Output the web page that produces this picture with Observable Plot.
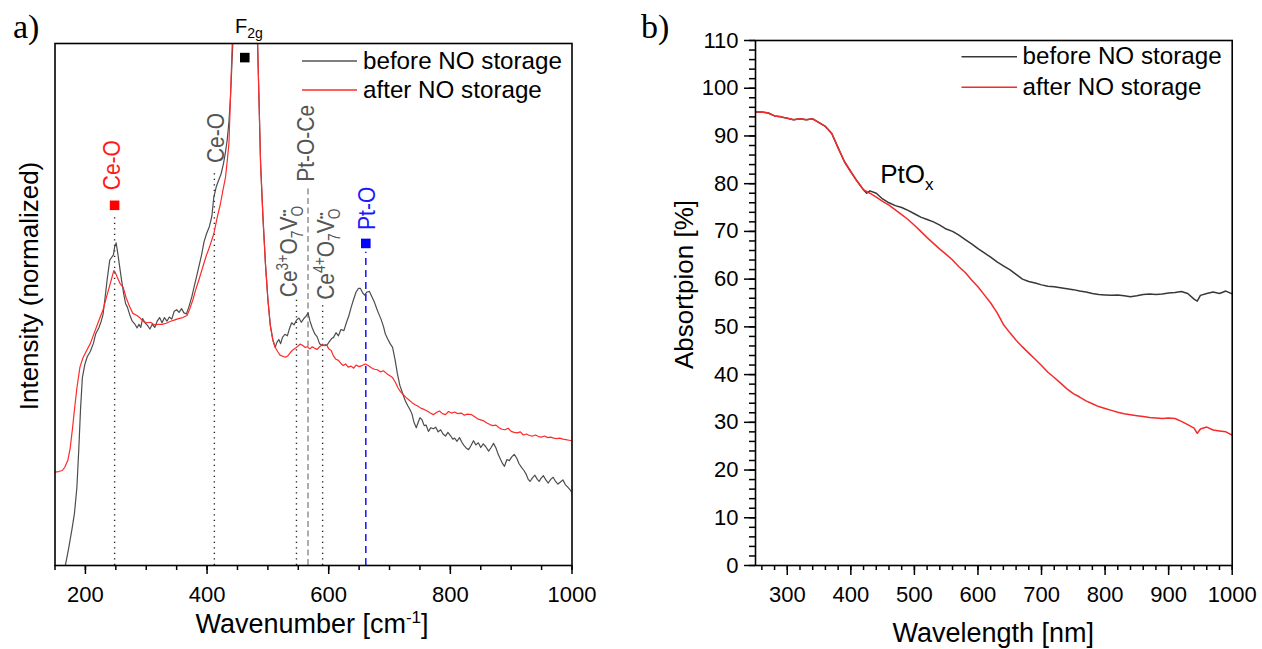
<!DOCTYPE html>
<html><head><meta charset="utf-8">
<script src="https://cdn.jsdelivr.net/npm/d3@7"></script>
<script src="https://cdn.jsdelivr.net/npm/@observablehq/plot@0.6"></script>
<style>
html,body{margin:0;padding:0;background:#fff;}
#fig{position:relative;width:1262px;height:649px;overflow:hidden;background:#fff;}
#fig > svg{position:absolute;top:0;}
</style></head><body><div id="fig"></div>
<script>
// ---------------- Panel a: Raman spectra (wavenumber cm-1, normalized intensity) ----------------
const ramanBefore = [
 [167,0],[172,3],[178,7],[182,10],[186,15],[189,22],[192,30],[195,36],[199,38.5],[203,40],[208,41],[213,42.5],[217,44.4],[222,45.5],[226,46.8],[229,48.1],[232,51],[236,55],[240,58.5],[243,59],[246,59.5],[248,61],[250.5,61.8],[253,60],[256,57.5],[259,55],[263,52],[266,50.2],[269,49.5],[273,48],[277,46.8],[281,46.3],[285,45.5],[288,46.2],[291,45.6],[294,47.3],[298,46.5],[302,46],[306,45.3],[310,46.2],[314,45.6],[318,46.8],[322,47.5],[326,46.5],[330,47.5],[334,46.8],[338,47.6],[342,47.2],[346,48.7],[350,49],[354,48.5],[358,49.2],[362,48.4],[366,48.2],[370,49.5],[375,51.5],[379,53.5],[383,55.5],[387,57.5],[391,59.5],[395,62],[399,63.5],[404,65],[408,67],[411,70.5],[415,72.5],[419,73.8],[423,75],[427,77],[430,79],[433,81.4],[436,85],[438.5,89.7],[440.5,95],[442.5,100.5],[450,125],[462,140],[474,125],[483,100.5],[488,77],[492,66.5],[496,57.8],[500,51],[504,46],[508,43.3],[512,41.8],
 [515,42.8],[518,43.3],[521,42.5],[524,43.7],[528,44.3],[532,44],[535,45.2],[539,46.5],[543,46.1],[547,47],[551,47.4],[555,46.6],[559,47.3],[563,47.8],[566,48.4],[569,46.9],[573,45.5],[577,44.4],[581,43.8],[585,42.5],[590,42.1],[594,42.3],[597,42.2],[601,42.9],[605,43.5],[608,43.7],[612,44.6],[616,44],[620,45.2],[625,45],[629,46.5],[633,47.8],[637,49.5],[641,51],[645,52.4],[649,53.1],[652,53.1],[656,52.2],[659,51.8],[663,52.4],[667,52.5],[671,51.5],[675,50.5],[679,49.2],[682,48.3],[686,47.2],[690,45.8],[693,44.4],[697,43.4],[701,42.5],[705,41.8],[709,39.5],[713,36.7],[717,34.5],[722,32.8],[726,31.5],[730,30.6],[734,29.8],[737,29],[740,27.5],[744,26.4],[747,27.4],[750,28.3],[753,28],[757,26.8],[760,26.9],[764,25.7],[768,26.4],[772,26.2],[776,26.5],[780,25.6],[784,26],[788,25.2],[792,24.8],[796,25.5],[800,24.9],[804,24.2],[807,24.4],[811,23.8],[815,24.5],[819,23.6],[823,22.9],[827,22.4],[830,22.2],[834,23],[838,23.9],[842,23.1],[846,23.5],[850,22.6],[854,23.3],[858,22.8],[863,21.9],[867,22.6],[871,23.4],[875,22.5],[879,21.2],[883,20.2],[886,19.5],[889,19],[893,20.3],[897,20.1],[901,20.8],[905,21.3],[909,20.6],[913,19.5],[917,18.8],[921,18.2],[925,17.4],[928,16.5],[931,16.1],[935,16.8],[939,17.3],[943,16.5],[946,16.1],[949,16.7],[953,17.2],[957,16.4],[961,15.8],[965,16.5],[969,16.9],[973,16.1],[977,15.6],[981,16],[985,16.4],[989,15.5],[993,15],[997,14.5],[1000,13.9]
];
const ramanAfter = [
 [150,17.9],[156,18],[162,18.2],[166,18.8],[171,20.1],[175,22.5],[179,26.5],[182.4,30.3],[186,34],[191,38],[196,39.8],[202,41.2],[208,42.5],[215,44.7],[222,46.9],[229,49],[236,52],[242,54.5],[246.7,56.5],[249,56.2],[252,55.3],[257,54],[262,53.3],[267,51.3],[273,49.5],[278,48.3],[284.6,47.9],[290,47.4],[296,46.7],[302,46.5],[307,46.6],[313,46.1],[320,46.2],[326,46.2],[333,46.4],[340,46.8],[346,47],[353,47.3],[360,47.5],[367,47.9],[372,49.3],[377,51],[381,52.7],[386,54.5],[392,56.8],[398,59.1],[404,61],[411,63.5],[416,66.3],[422,69.3],[426,71.8],[430.4,74.4],[433,77.3],[436,80.9],[438.5,89.7],[440,95],[441.5,100.5],[450,125],[462,140],[474,125],[483,100.5],[488,77],[492,66.5],[496,57.8],[500,51],[504,46],[508,43.3],[512,41.8],
 [516,41],[520,40.3],[524,40.1],[529,39.9],[533,40.2],[537,40.8],[541,41.3],[545,41.6],[549,42],[553,42.4],[557,42.2],[561,41.8],[565,41.9],[569,41.5],[573,41.9],[577,41.6],[581,41.4],[585,41.9],[589,42.3],[593,42.1],[597,42.2],[600,41.5],[604,41.2],[608,40.1],[612,39.5],[616,39.3],[620,38.7],[624,38.3],[628,38.6],[632,38],[637,38.2],[641,37.8],[645,38.4],[650,38.1],[655,38.3],[660,38.6],[665,38.3],[670,37.9],[675,37.6],[680,37.5],[685,37.1],[690,37.3],[695,36.8],[700,36.4],[705,36],[710,35],[714,34],[718,33.3],[722,32.8],[727,32.2],[732,31.7],[737,31.2],[742,30.8],[747,30.5],[752,30.1],[757,29.9],[762,29.6],[767,29.2],[772,28.9],[777,29.3],[782,29.6],[787,29.1],[792,28.9],[797,29.5],[802,29.2],[807,29.4],[812,29.1],[818,29.2],[823,28.8],[828,29],[835,28.9],[840,28.5],[845,28.1],[850,27.9],[855,27.7],[860,27.3],[865,27],[870,26.8],[875,26.9],[880,26.4],[885,26.1],[890,26],[895,26.3],[900,25.7],[905,25.5],[910,25.4],[915,25.6],[920,25],[925,25.2],[930,24.9],[935,24.8],[940,25],[945,24.7],[950,24.6],[955,24.8],[960,24.5],[965,24.6],[970,24.4],[975,24.3],[980,24.4],[985,24.2],[990,24.1],[995,24.0],[1000,23.9]
];
// reference lines (cm-1) and where they stop (intensity units)
const dottedPeaks = [248, 412, 547, 590];
const dottedTops  = [67.4, 75.7, 50.8, 49.8];
const dashedGrayPeaks = [566];
const dashedGrayTops  = [72.8];
const dashedBluePeaks = [661];
const dashedBlueTops  = [60.0];
// square markers
const markerPeaks  = [248, 462, 661];
const markerLevels = [69.0, 97.3, 61.7];
const markerColors = ["#ff0000", "#000000", "#0000ff"];
// series names
const seriesNames = ["before NO storage", "after NO storage"];
const ramanTicksMajor = [200, 400, 600, 800, 1000];

// ---------------- Panel b: UV-vis absorption (wavelength nm, %) ----------------
const uvBefore = [
 [250,95.0],[260,95.0],[270,94.8],[280,94.2],[290,94.0],[300,93.7],[310,93.4],[320,93.6],[330,93.4],[340,93.6],[350,92.8],[360,92.0],[370,90.5],[380,87.5],[390,84.6],[400,82.5],[410,80.5],[420,78.7],[425,78.0],[430,78.5],[440,78.0],[450,76.8],[460,76.0],[470,75.4],[480,75.0],[490,74.4],[500,73.7],[510,73.0],[520,72.5],[530,72.0],[540,71.3],[550,70.5],[560,70.0],[570,69.2],[580,68.3],[590,67.4],[600,66.4],[610,65.5],[620,64.6],[630,63.6],[640,62.8],[650,62.0],[660,61.0],[670,60.0],[680,59.5],[690,59.2],[700,58.8],[710,58.5],[720,58.4],[730,58.2],[740,58.0],[750,57.8],[760,57.5],[770,57.3],[780,57.0],[790,56.8],[800,56.7],[810,56.6],[820,56.7],[830,56.5],[840,56.3],[850,56.5],[860,56.8],[870,56.9],[880,56.8],[890,56.9],[900,57.1],[910,57.2],[920,57.4],[930,57.0],[940,55.8],[945,55.4],[950,56.6],[960,57.0],[970,57.3],[980,57.0],[990,57.5],[1000,56.9]
];
const uvAfter = [
 [250,95.0],[260,95.0],[270,94.8],[280,94.2],[290,94.0],[300,93.7],[310,93.4],[320,93.6],[330,93.4],[340,93.6],[350,92.8],[360,92.0],[370,90.5],[380,87.5],[390,84.6],[400,82.5],[410,80.5],[420,78.7],[430,78.0],[440,77.2],[450,76.3],[460,75.5],[470,74.5],[480,73.5],[490,72.5],[500,71.3],[510,70.0],[520,68.7],[530,67.5],[540,66.3],[550,65.2],[560,64.0],[570,62.6],[580,61.4],[590,59.8],[600,58.4],[610,56.7],[620,55.0],[630,53.0],[640,50.5],[650,48.8],[660,47.2],[670,45.8],[680,44.5],[690,43.2],[700,41.9],[710,40.5],[720,39.4],[730,38.2],[740,37.0],[750,36.0],[760,35.3],[770,34.5],[780,33.9],[790,33.3],[800,32.9],[810,32.5],[820,32.1],[830,31.8],[840,31.6],[850,31.4],[860,31.2],[870,31.0],[880,30.9],[890,30.8],[900,30.9],[910,30.8],[920,30.2],[930,29.5],[940,28.8],[945,27.7],[950,28.6],[960,29.0],[970,28.4],[980,28.2],[990,28.0],[1000,27.3]
];
const uvTicksMajor = [300, 400, 500, 600, 700, 800, 900, 1000];
const uvYTicks = [0,10,20,30,40,50,60,70,80,90,100,110];

// ---------------- rendering ----------------
const FONT = "'Liberation Sans', Arial, Helvetica, sans-serif";
const SERIF = "'Liberation Serif', 'Times New Roman', serif";
const fig = document.getElementById("fig");
const toRules = (xs, tops) => xs.map((x, i) => ({x, top: tops[i]}));
const markers = markerPeaks.map((x, i) => ({x, y: markerLevels[i], c: markerColors[i]}));
const intFmt = d => String(d);

const plotA = Plot.plot({
  width: 631, height: 649,
  marginLeft: 54.5, marginRight: 59.5, marginTop: 43, marginBottom: 84,
  style: {fontFamily: FONT, fontSize: "22px", color: "#000", background: "transparent", overflow: "visible"},
  x: {domain: [150, 1000]},
  y: {domain: [0, 100], axis: null},
  color: {type: "identity"},
  marks: [
    Plot.ruleX(toRules(dottedPeaks, dottedTops), {x: "x", y1: 0, y2: "top", stroke: "#222", strokeWidth: 1.4, strokeDasharray: "1.3,4.2"}),
    Plot.ruleX(toRules(dashedGrayPeaks, dashedGrayTops), {x: "x", y1: 0, y2: "top", stroke: "#8a8a8a", strokeWidth: 1.4, strokeDasharray: "6,3.5"}),
    Plot.ruleX(toRules(dashedBluePeaks, dashedBlueTops), {x: "x", y1: 0, y2: "top", stroke: "#2020ff", strokeWidth: 1.6, strokeDasharray: "7,5"}),
    Plot.line(ramanBefore, {x: d => d[0], y: d => d[1], stroke: "#4d4d4d", strokeWidth: 1.2, clip: true}),
    Plot.line(ramanAfter, {x: d => d[0], y: d => d[1], stroke: "#ff2a2a", strokeWidth: 1.2, clip: true}),
    Plot.dot(markers, {x: "x", y: "y", fill: "c", symbol: "square", r: 5.4, stroke: null}),
    Plot.axisX({ticks: d3.range(150, 1001, 50), tickSize: 5, tickFormat: () => "", label: null, strokeWidth: 1.5}),
    Plot.axisX({ticks: ramanTicksMajor, tickSize: 9, tickPadding: 11.5, tickFormat: intFmt, label: null, strokeWidth: 1.5, fill: "#000"}),
    Plot.frame({stroke: "#000", strokeWidth: 1.6})
  ]
});
plotA.style.left = "0px";
fig.appendChild(plotA);

const plotB = Plot.plot({
  width: 631, height: 649,
  marginLeft: 124, marginRight: 30.3, marginTop: 40, marginBottom: 84,
  style: {fontFamily: FONT, fontSize: "22px", color: "#000", background: "transparent", overflow: "visible"},
  x: {domain: [250, 1000]},
  y: {domain: [0, 110]},
  marks: [
    Plot.line(uvBefore, {x: d => d[0], y: d => d[1], stroke: "#383838", strokeWidth: 1.5}),
    Plot.line(uvAfter, {x: d => d[0], y: d => d[1], stroke: "#f52a2a", strokeWidth: 1.5}),
    Plot.axisY({ticks: d3.range(0, 111, 2), tickSize: 6, tickFormat: () => "", label: null, strokeWidth: 1.5}),
    Plot.axisY({ticks: uvYTicks, tickSize: 11, tickPadding: 6, tickFormat: intFmt, label: null, strokeWidth: 1.5, fill: "#000"}),
    Plot.axisX({ticks: d3.range(260, 1001, 20), tickSize: 5, tickFormat: () => "", label: null, strokeWidth: 1.5}),
    Plot.axisX({ticks: uvTicksMajor, tickSize: 10, tickPadding: 10.5, tickFormat: intFmt, label: null, strokeWidth: 1.5, fill: "#000"}),
    Plot.frame({stroke: "#000", strokeWidth: 1.6})
  ]
});
plotB.style.left = "631px";
fig.appendChild(plotB);

// --------- text helpers (real SVG text) ---------
// rotated labels: x is the centre of the cap band; stretch widens glyphs like the reference
function richText(svg, x, y, parts, opts) {
  const size = opts.size, st = opts.stretch || 1;
  const tx = opts.rotate ? x + 0.358 * size * st : x;
  const t = svg.append("text")
    .attr("transform", `translate(${tx},${y})` + (opts.rotate ? ` rotate(-90) scale(1,${st})` : ""))
    .attr("font-family", opts.family || FONT)
    .attr("font-size", size)
    .attr("fill", opts.color || "#000")
    .attr("text-anchor", opts.anchor || "start");
  let cur = 0, prev = null;
  for (const p of parts) {
    const target = p.sup ? -size * 0.38 : p.sub ? size * 0.25 : 0;
    const s = t.append("tspan").text(p.t)
      .attr("font-size", p.sup || p.sub ? (p.size || size * 0.66) : size);
    if (target - cur !== 0) s.attr("dy", target - cur);
    if (p.back && prev) s.attr("dx", -prev.node().getComputedTextLength());
    cur = target; prev = s;
  }
  return t;
}
function plainText(svg, x, y, str, size, opts = {}) {
  return svg.append("text")
    .attr("transform", `translate(${x},${y})` + (opts.rotate ? " rotate(-90)" : ""))
    .attr("text-anchor", opts.anchor || "start")
    .attr("font-family", opts.family || FONT).attr("font-size", size).attr("fill", "#000").text(str);
}

// Panel a annotations
const svgA = d3.select(plotA), xA = plotA.scale("x"), yA = plotA.scale("y");
const annoWn   = [242.9, 413.9, 561.9, 534.0, 594.8, 662.2];
const annoLev  = [71.8, 77.0, 73.4, 51.3, 50.8, 64.2];
const annoCol  = ["#ff1a1a", "#555555", "#555555", "#555555", "#555555", "#1a1aff"];
const annoParts = [
  [{t: "Ce-O"}],
  [{t: "Ce-O"}],
  [{t: "Pt-O-Ce"}],
  [{t: "Ce"}, {t: "3+", sup: true}, {t: "O"}, {t: "7", sub: true}, {t: "V"}, {t: "••", sup: true, size: 10}, {t: "O", sub: true, back: true}],
  [{t: "Ce"}, {t: "4+", sup: true}, {t: "O"}, {t: "7", sub: true}, {t: "V"}, {t: "••", sup: true, size: 10}, {t: "O", sub: true, back: true}],
  [{t: "Pt-O"}]
];
annoParts.forEach((parts, i) => {
  richText(svgA, xA.apply(annoWn[i]), yA.apply(annoLev[i]), parts, {size: 21, color: annoCol[i], rotate: true, stretch: 1.15});
});
richText(svgA, xA.apply(446.8), yA.apply(101.9), [{t: "F"}, {t: "2g", sub: true, size: 14}], {size: 20});

// axis titles a
richText(svgA, 312, 633, [{t: "Wavenumber [cm"}, {t: "-1", sup: true, size: 17}, {t: "]"}], {size: 27, anchor: "middle"});
plainText(svgA, 38, 286, "Intensity (normalized)", 26, {rotate: true, anchor: "middle"});
plainText(svgA, 13, 38, "a)", 34, {family: SERIF});

// legend a
const legA = [{y: 61, c: "#555555"}, {y: 90, c: "#ff2a2a"}];
legA.forEach((l, i) => {
  svgA.append("line").attr("x1", 302).attr("x2", 357).attr("y1", l.y).attr("y2", l.y).attr("stroke", l.c).attr("stroke-width", 1.3);
  plainText(svgA, 363, l.y + 7.5, seriesNames[i], 24.2);
});

// Panel b annotations
const svgB = d3.select(plotB), xB = plotB.scale("x"), yB = plotB.scale("y");
richText(svgB, xB.apply(447), yB.apply(80), [{t: "PtO"}, {t: "x", sub: true, size: 17}], {size: 26});
plainText(svgB, 362.3, 641.5, "Wavelength [nm]", 27, {anchor: "middle"});
plainText(svgB, 62, 284.5, "Absortpion [%]", 26, {rotate: true, anchor: "middle"});
plainText(svgB, 10, 38, "b)", 34, {family: SERIF});
const legB = [{y: 56.7, c: "#383838"}, {y: 87.3, c: "#f52a2a"}];
legB.forEach((l, i) => {
  svgB.append("line").attr("x1", 330.5).attr("x2", 386).attr("y1", l.y).attr("y2", l.y).attr("stroke", l.c).attr("stroke-width", 1.5);
  plainText(svgB, 391.6, l.y + 7.5, seriesNames[i], 24.2);
});
</script></body></html>
